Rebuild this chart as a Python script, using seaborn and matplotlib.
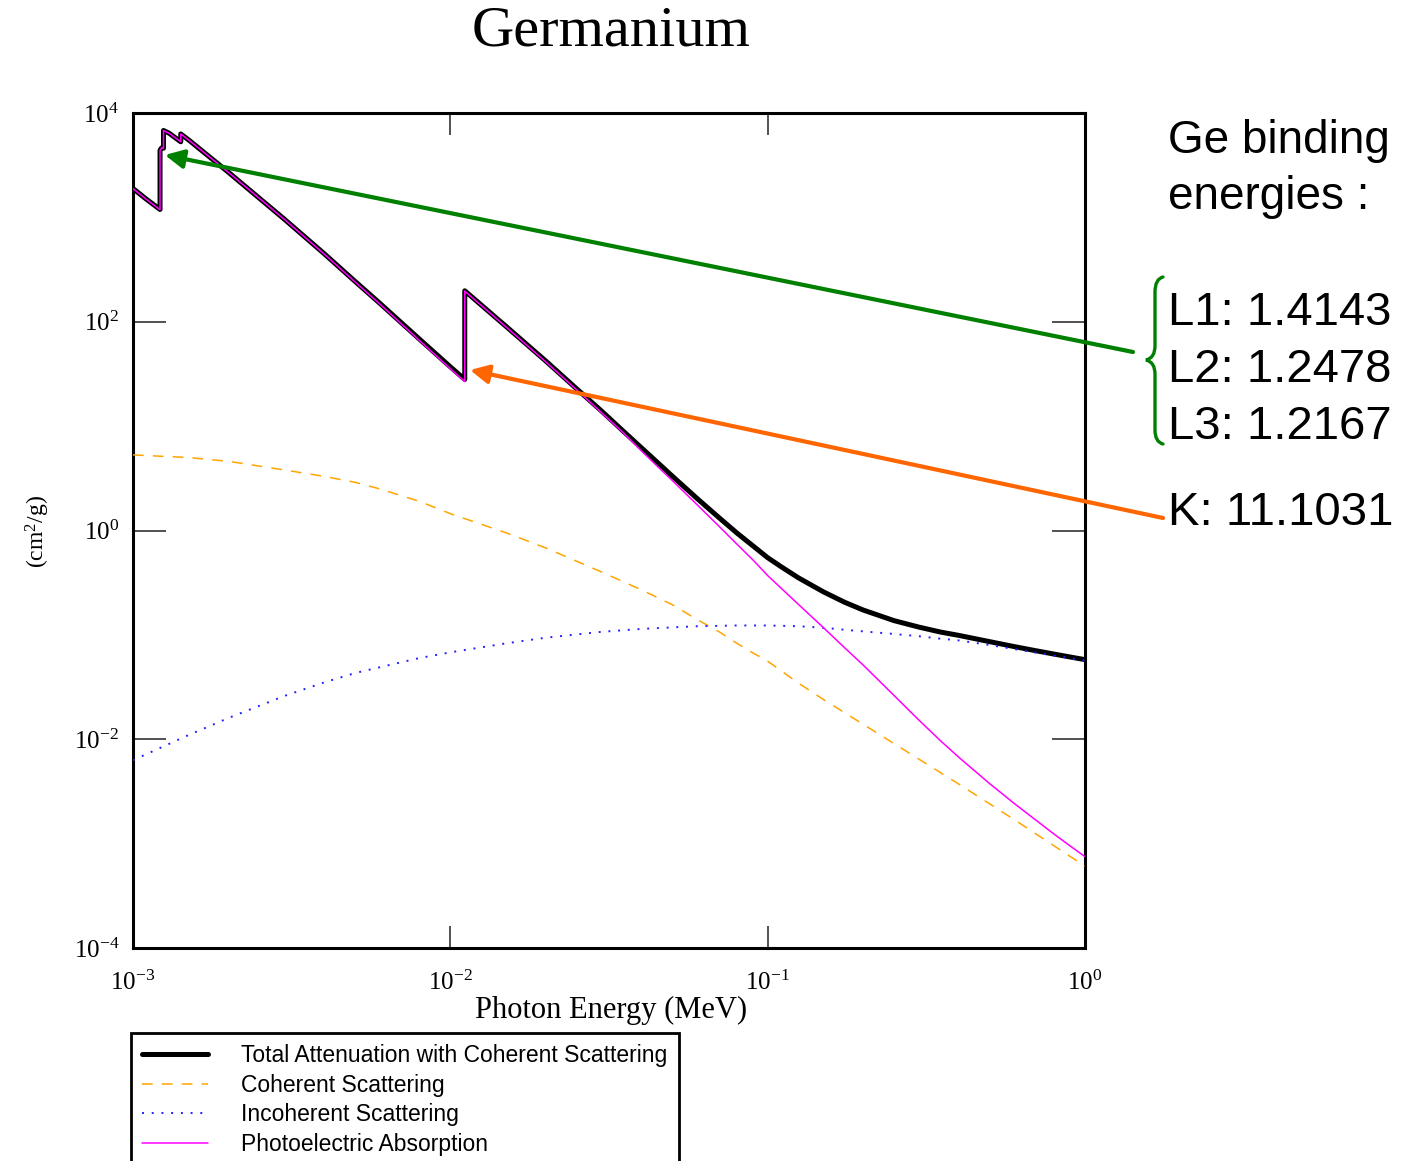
import numpy as np
import pandas as pd
import matplotlib
matplotlib.use("Agg")
import matplotlib.pyplot as plt
from matplotlib.path import Path
from matplotlib.patches import PathPatch
import seaborn as sns

# ---------------- data (energies in MeV, attenuation in cm^2/g) ----------------
energy_total = [1.0e-3, 1.1e-3, 1.2167e-3, 1.2167e-3, 1.2323e-3, 1.2478e-3, 1.2478e-3, 1.3e-3,
                1.4143e-3, 1.4143e-3, 1.5e-3, 2e-3, 3e-3, 4e-3, 5e-3, 6e-3, 8e-3, 1e-2,
                1.11031e-2, 1.11031e-2, 1.5e-2, 2e-2, 2.5e-2, 3e-2, 3.5e-2, 4e-2, 4.5e-2,
                5e-2, 6e-2, 7e-2, 8e-2, 9e-2, 0.1, 0.11, 0.125, 0.15, 0.175, 0.2, 0.25,
                0.3, 0.35, 0.4, 0.5, 0.6, 0.7, 0.8, 0.9, 1.0]
mu_total = [1890, 1500, 1190, 4400, 4650, 4600, 6800, 6400,
            5300, 6300, 5500, 2700, 960, 450, 245, 150, 68, 37,
            28, 198, 90, 42, 22.8, 13.9, 9.0, 6.2, 4.47,
            3.33, 2.02, 1.34, 0.946, 0.71, 0.549, 0.452, 0.352, 0.258, 0.205, 0.173, 0.137,
            0.1186, 0.1065, 0.0989, 0.0862, 0.0771, 0.0705, 0.0654, 0.0613, 0.0579]
mu_photo = [1885, 1495, 1185, 4395, 4645, 4595, 6795, 6395,
            5295, 6295, 5495, 2695, 956, 447, 242, 147.5, 66, 35.5,
            26.7, 196.7, 89, 41.2, 22.3, 13.4, 8.7, 5.8, 4.1,
            3.02, 1.76, 1.11, 0.74, 0.52, 0.37, 0.282, 0.196, 0.117, 0.075, 0.0514, 0.0263,
            0.0152, 0.00971, 0.00673, 0.00377, 0.00241, 0.00168, 0.00123, 0.000945, 0.00075]

energy_scatter = [1e-3, 1.5e-3, 2e-3, 3e-3, 4e-3, 5e-3, 6e-3, 8e-3, 1e-2, 1.5e-2, 2e-2,
                  3e-2, 4e-2, 5e-2, 6e-2, 7e-2, 8e-2, 9e-2, 0.1, 0.125, 0.15, 0.175, 0.2,
                  0.25, 0.3, 0.35, 0.4, 0.5, 0.6, 0.7, 0.8, 0.9, 1.0]
mu_coherent = [5.3, 5.0, 4.6, 3.8, 3.3, 2.9, 2.5, 1.9, 1.45, 0.95, 0.68,
               0.40, 0.27, 0.195, 0.14, 0.108, 0.083, 0.067, 0.056, 0.0345, 0.024, 0.0179, 0.0139,
               0.0091, 0.00643, 0.0048, 0.00372, 0.00241, 0.00169, 0.00124, 0.00095, 0.00075, 0.00061]
mu_incoherent = [0.0063, 0.011, 0.016, 0.026, 0.035, 0.043, 0.049, 0.060, 0.068, 0.083, 0.094,
                 0.107, 0.114, 0.118, 0.121, 0.122, 0.123, 0.123, 0.123, 0.121, 0.117, 0.112, 0.108,
                 0.102, 0.097, 0.092, 0.0885, 0.080, 0.073, 0.0676, 0.0632, 0.0596, 0.0565]

series_labels = ["Total Attenuation with Coherent Scattering", "Coherent Scattering",
                 "Incoherent Scattering", "Photoelectric Absorption"]
x_ticks = [1e-3, 1e-2, 1e-1, 1e0]
y_ticks = [1e-4, 1e-2, 1e0, 1e2, 1e4]

# annotation targets (data coords) and texts
l_edge_tip = (1.26e-3, 3960)
k_edge_tip = (1.153e-2, 34.5)
side_title = ["Ge binding", "energies :"]
l_lines = ["L1: 1.4143", "L2: 1.2478", "L3: 1.2167"]
k_line = "K: 11.1031"

# ---------------- style ----------------
sns.set_style("ticks")
plt.rcParams["font.family"] = ["Liberation Serif", "DejaVu Serif"]
plt.rcParams["mathtext.fontset"] = "custom"
plt.rcParams["mathtext.rm"] = "Liberation Serif"
plt.rcParams["mathtext.it"] = "Liberation Serif:italic"
plt.rcParams["mathtext.bf"] = "Liberation Serif:bold"
plt.rcParams["text.color"] = "black"
plt.rcParams["axes.labelcolor"] = "black"
plt.rcParams["axes.unicode_minus"] = False

W, H = 1407, 1161
fig = plt.figure(figsize=(W / 100, H / 100), dpi=100)
fig.patch.set_facecolor("white")


def fx(px):
    return px / W


def fy(py):
    return 1 - py / H


ax = fig.add_axes([fx(133), fy(948), (1085 - 133) / W, (948 - 113) / H])
ax.set_facecolor("white")

df_tot = pd.DataFrame({"E": energy_total, "total": mu_total, "photo": mu_photo})
df_sc = pd.DataFrame({"E": energy_scatter, "coh": mu_coherent, "inc": mu_incoherent})

sns.lineplot(data=df_tot, x="E", y="total", ax=ax, color="black", lw=3.6,
             estimator=None, sort=False, label=series_labels[0], zorder=2)
sns.lineplot(data=df_sc, x="E", y="coh", ax=ax, color="#FFA500", lw=1.1,
             linestyle=(0, (7, 6)), estimator=None, sort=False, label=series_labels[1], zorder=3)
sns.lineplot(data=df_sc, x="E", y="inc", ax=ax, color="#2020FF", lw=1.4,
             linestyle=(0, (1, 4)), estimator=None, sort=False, label=series_labels[2], zorder=4)
sns.lineplot(data=df_tot, x="E", y="photo", ax=ax, color="#FF00FF", lw=1.1,
             estimator=None, sort=False, label=series_labels[3], zorder=5)

ax.set_xscale("log")
ax.set_yscale("log")
ax.set_xlim(1e-3, 1e0)
ax.set_ylim(1e-4, 1e4)
ax.set_xticks(x_ticks)
ax.set_yticks(y_ticks)
ax.xaxis.set_minor_locator(matplotlib.ticker.NullLocator())
ax.yaxis.set_minor_locator(matplotlib.ticker.NullLocator())
ax.set_xlabel("")
ax.set_ylabel("")
ax.tick_params(axis="both", which="major", direction="in", top=True, right=True,
               color="#333333", width=1.2, labelsize=18, labelcolor="black")
ax.tick_params(axis="x", length=16, pad=16)
ax.tick_params(axis="y", length=24, pad=10)
for s in ax.spines.values():
    s.set_linewidth(2.2)
    s.set_color("black")

handles, labels = ax.get_legend_handles_labels()
ax.get_legend().remove()

leg = fig.legend(handles, labels, loc="upper left",
                 bbox_to_anchor=(fx(131), fy(1033)),
                 prop={"family": "Liberation Sans", "size": 16.5},
                 frameon=True, fancybox=False, shadow=False, edgecolor="black",
                 framealpha=1, borderpad=0.5, labelspacing=0.28, handlelength=2.85,
                 handletextpad=1.45, borderaxespad=0)
leg.get_frame().set_linewidth(2)

# titles / labels
fig.text(fx(611), fy(32), "Germanium", ha="center", va="center", fontsize=42)
fig.text(fx(611), fy(1010), "Photon Energy (MeV)", ha="center", va="center", fontsize=22)
fig.text(fx(38), fy(532), "(cm$^2$/g)", ha="center", va="center", rotation=90, fontsize=17)

# side annotations
sans = "Liberation Sans"
fig.text(fx(1168), fy(153), side_title[0], ha="left", va="baseline", fontsize=33, family=sans)
fig.text(fx(1168), fy(209), side_title[1], ha="left", va="baseline", fontsize=33, family=sans)
for i, t in enumerate(l_lines):
    fig.text(fx(1168), fy(325 + 57 * i), t, ha="left", va="baseline", fontsize=34, family=sans)
fig.text(fx(1168), fy(525), k_line, ha="left", va="baseline", fontsize=34, family=sans)

# brace
green = "#008000"
orange = "#FF6600"
bp = [(1163, 277), (1155, 279), (1155, 292), (1155, 346), (1155, 358), (1146, 360),
      (1155, 362), (1155, 374), (1155, 430), (1155, 442), (1163, 444)]
codes = [Path.MOVETO, Path.CURVE3, Path.CURVE3, Path.LINETO, Path.CURVE3, Path.CURVE3,
         Path.CURVE3, Path.CURVE3, Path.LINETO, Path.CURVE3, Path.CURVE3]
brace = Path([(fx(a), fy(b)) for a, b in bp], codes)
fig.add_artist(PathPatch(brace, transform=fig.transFigure, fill=False,
                         edgecolor=green, lw=2.4, capstyle="round"))

# arrows
ax.annotate("", xy=l_edge_tip, xycoords="data",
            xytext=(fx(1133), fy(352)), textcoords="figure fraction",
            arrowprops=dict(arrowstyle="-|>", color=green, lw=3, mutation_scale=28,
                            shrinkA=0, shrinkB=0),
            annotation_clip=False, zorder=10)
ax.annotate("", xy=k_edge_tip, xycoords="data",
            xytext=(fx(1163), fy(518)), textcoords="figure fraction",
            arrowprops=dict(arrowstyle="-|>", color=orange, lw=3, mutation_scale=28,
                            shrinkA=0, shrinkB=0),
            annotation_clip=False, zorder=10)

fig.savefig("out.png", dpi=100, facecolor="white")
